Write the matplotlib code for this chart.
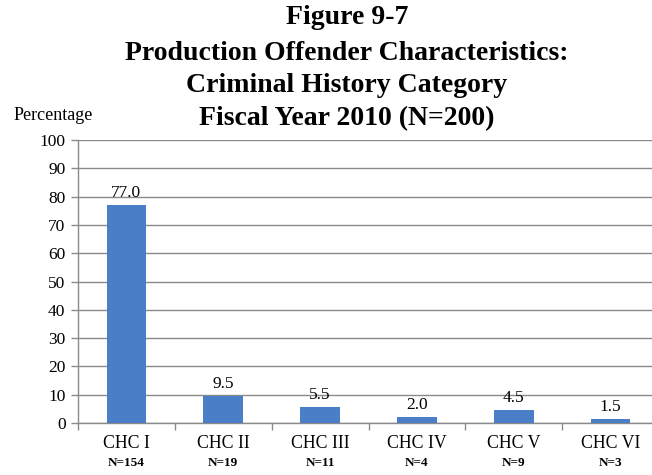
import matplotlib
matplotlib.use('Agg')
import matplotlib.pyplot as plt
import matplotlib.transforms as mtransforms
import numpy as np

plt.rcParams['font.family'] = 'Liberation Serif'

categories = ['CHC I', 'CHC II', 'CHC III', 'CHC IV', 'CHC V', 'CHC VI']
counts = ['N=154', 'N=19', 'N=11', 'N=4', 'N=9', 'N=3']
percent = [77.0, 9.5, 5.5, 2.0, 4.5, 1.5]

W, H = 652, 475
fig = plt.figure(figsize=(W / 100, H / 100), dpi=100)
ax = fig.add_axes([78 / W, 1 - 423 / H, (659 - 78) / W, (423 - 140) / H])

x = np.arange(len(categories))
ax.bar(x, percent, width=0.41, color='#4A7EC6', zorder=3)
for xi, v in zip(x, percent):
    ax.text(xi, v + 1.5, f'{v:.1f}', ha='center', va='bottom', fontsize=12.5)

ax.set_xlim(-0.5, len(categories) - 0.5)
ax.set_ylim(0, 100)
ax.set_yticks(range(0, 101, 10))
ax.yaxis.grid(True, color='#8a8a8a', linewidth=1.0, zorder=0)
ax.tick_params(axis='y', labelsize=12.5, length=5, color='#8a8a8a', pad=4, width=1)

ax.set_xticks(x)
ax.set_xticklabels(categories, fontsize=12.8)
ax.tick_params(axis='x', which='major', length=0, pad=9)
ax.set_xticks(np.arange(0, len(categories)) - 0.5, minor=True)
ax.tick_params(axis='x', which='minor', length=5, color='#8a8a8a', width=1)

trans = mtransforms.blended_transform_factory(ax.transData, fig.transFigure)
for xi, n in zip(x, counts):
    ax.text(xi, 1 - 463 / H, n, transform=trans, ha='center', va='center',
            fontsize=9.5, fontweight='bold')

for s in ['top', 'right']:
    ax.spines[s].set_visible(False)
for s in ['left', 'bottom']:
    ax.spines[s].set_color('#8a8a8a')
    ax.spines[s].set_linewidth(1.0)

title = ['Figure 9-7', 'Production Offender Characteristics:',
         'Criminal History Category', 'Fiscal Year 2010 (N=200)']
ys = [18, 53, 86, 119]
for t, y in zip(title, ys):
    fig.text(347 / W, 1 - y / H, t, ha='center', va='center',
             fontsize=20, fontweight='bold')

fig.text(14 / W, 1 - 116 / H, 'Percentage', ha='left', va='center', fontsize=13)

fig.savefig('out.png', dpi=100)
